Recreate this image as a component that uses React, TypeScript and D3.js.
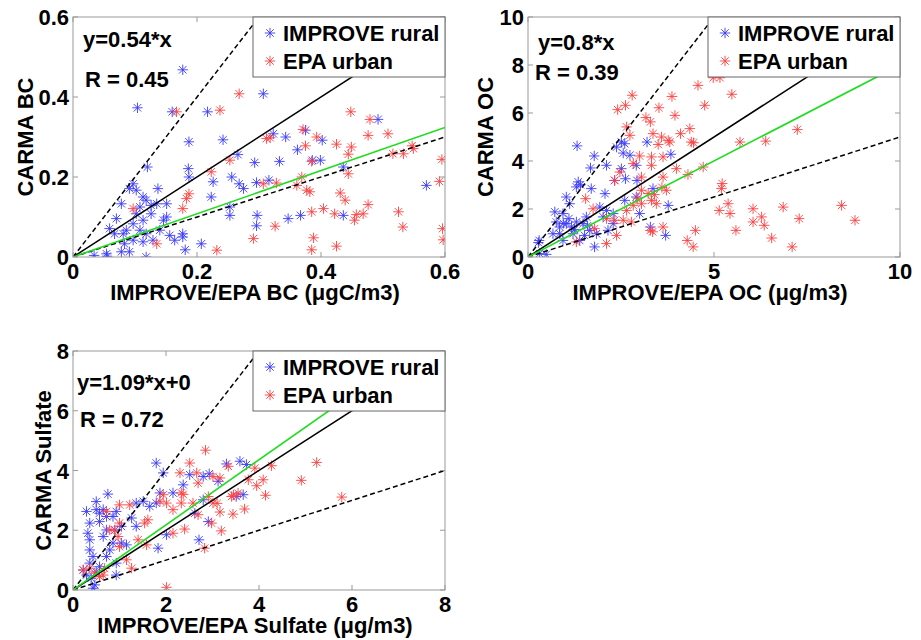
import React from "react";
import * as d3 from "d3";

// ---------- DATA ----------
const legendLabels = ["IMPROVE rural", "EPA urban"];

// Panel 1: BC
const bcRural: [number, number][] = [
  [0.177, 0.468], [0.104, 0.373], [0.16, 0.363], [0.217, 0.363], [0.307, 0.408], [0.187, 0.288],
  [0.242, 0.293], [0.492, 0.344], [0.375, 0.317], [0.343, 0.3], [0.323, 0.308], [0.402, 0.292],
  [0.266, 0.256], [0.362, 0.268], [0.333, 0.239], [0.293, 0.236], [0.386, 0.242], [0.399, 0.242],
  [0.436, 0.225], [0.57, 0.179], [0.12, 0.225], [0.186, 0.221], [0.187, 0.2], [0.226, 0.188],
  [0.256, 0.2], [0.268, 0.183], [0.275, 0.171], [0.296, 0.186], [0.316, 0.192], [0.223, 0.15],
  [0.097, 0.183], [0.091, 0.171], [0.137, 0.171], [0.297, 0.104], [0.296, 0.078], [0.253, 0.125],
  [0.253, 0.104], [0.347, 0.096], [0.367, 0.104], [0.436, 0.104], [0.207, 0.033], [0.181, 0.018],
  [0.118, 0.0], [0.034, 0.004], [0.054, 0.008], [0.055, 0.002], [0.078, 0.013], [0.091, 0.013],
  [0.059, 0.071], [0.07, 0.096], [0.078, 0.133], [0.067, 0.058], [0.081, 0.058], [0.086, 0.067],
  [0.097, 0.083], [0.102, 0.108], [0.108, 0.125], [0.118, 0.142], [0.126, 0.129], [0.135, 0.133],
  [0.151, 0.133], [0.126, 0.108], [0.113, 0.092], [0.108, 0.067], [0.118, 0.058], [0.129, 0.042],
  [0.113, 0.038], [0.097, 0.042], [0.083, 0.033], [0.151, 0.1], [0.156, 0.054], [0.164, 0.042],
  [0.177, 0.058], [0.177, 0.05], [0.14, 0.067], [0.146, 0.092], [0.113, 0.15], [0.102, 0.167],
];
const bcUrban: [number, number][] = [
  [0.167, 0.363], [0.237, 0.367], [0.268, 0.408], [0.448, 0.363], [0.479, 0.344], [0.508, 0.308],
  [0.476, 0.304], [0.371, 0.319], [0.375, 0.278], [0.393, 0.3], [0.425, 0.282], [0.449, 0.275],
  [0.444, 0.257], [0.547, 0.278], [0.516, 0.258], [0.533, 0.258], [0.549, 0.271], [0.595, 0.244],
  [0.591, 0.189], [0.444, 0.208], [0.385, 0.239], [0.369, 0.2], [0.361, 0.179], [0.377, 0.167],
  [0.382, 0.163], [0.328, 0.185], [0.307, 0.183], [0.312, 0.296], [0.318, 0.298], [0.253, 0.242],
  [0.223, 0.213], [0.187, 0.158], [0.183, 0.146], [0.177, 0.121], [0.097, 0.121], [0.135, 0.033],
  [0.385, 0.113], [0.404, 0.121], [0.422, 0.108], [0.431, 0.16], [0.439, 0.142], [0.457, 0.106],
  [0.454, 0.092], [0.468, 0.108], [0.476, 0.131], [0.525, 0.113], [0.532, 0.075], [0.596, 0.071],
  [0.597, 0.043], [0.388, 0.048], [0.385, 0.018], [0.425, 0.027], [0.326, 0.077], [0.291, 0.046],
  [0.232, 0.017],
];

// Panel 2: OC
const ocRural: [number, number][] = [
  [1.32, 4.63], [1.78, 4.21], [1.68, 3.71], [2.11, 3.82], [1.35, 3.13], [1.3, 2.92], [1.41, 3.01],
  [1.7, 2.85], [2.07, 2.64], [2.51, 3.68], [2.38, 4.58], [2.51, 4.79], [2.6, 4.72], [2.56, 4.33],
  [2.74, 4.24], [2.91, 3.82], [2.62, 3.26], [2.33, 3.19], [2.93, 3.19], [3.2, 4.79], [3.84, 4.28],
  [3.36, 2.85], [3.77, 2.15], [3.7, 0.9], [3.29, 1.25], [1.03, 2.5], [0.72, 1.88], [1.12, 2.22],
  [0.94, 1.81], [0.76, 1.46], [0.85, 1.25], [1.03, 1.39], [1.17, 1.25], [1.3, 1.46], [1.48, 1.39],
  [1.57, 1.67], [1.66, 1.11], [1.84, 0.97], [1.79, 0.42], [2.02, 1.67], [2.11, 1.94], [2.29, 1.81],
  [2.29, 1.39], [2.15, 1.11], [1.93, 2.08], [2.6, 2.36], [0.3, 0.69], [0.28, 0.6], [0.49, 0.11],
  [0.31, 0.14], [0.67, 0.97], [0.85, 0.97], [0.94, 0.69], [1.21, 0.97], [1.39, 0.69], [1.52, 0.9],
  [3.0, 1.81], [2.91, 2.5], [1.1, 1.6], [0.95, 1.4], [1.25, 1.15], [1.6, 1.3],
];
const ocUrban: [number, number][] = [
  [4.57, 7.15], [4.75, 6.32], [5.48, 6.78], [4.98, 7.47], [5.16, 7.47], [3.87, 6.69], [3.95, 5.9],
  [3.52, 6.22], [2.8, 6.74], [2.62, 6.32], [2.41, 6.14], [2.65, 5.42], [2.74, 5.07], [3.17, 5.81],
  [3.29, 5.63], [3.36, 5.14], [3.59, 5.0], [3.77, 4.86], [3.81, 4.79], [3.5, 4.69], [4.1, 5.14],
  [4.35, 5.35], [4.39, 4.79], [4.45, 4.76], [5.7, 4.79], [6.39, 4.83], [7.24, 5.31], [4.71, 3.75],
  [4.3, 3.44], [3.99, 3.68], [3.63, 3.33], [3.0, 4.21], [2.83, 3.89], [3.32, 4.17], [3.63, 4.17],
  [3.32, 3.82], [3.05, 3.33], [2.47, 3.54], [2.33, 3.19], [3.05, 2.78], [3.23, 2.64], [3.32, 2.36],
  [3.45, 2.22], [3.72, 2.78], [3.05, 2.22], [2.83, 2.15], [2.65, 1.94], [2.33, 1.53], [2.56, 1.53],
  [2.78, 1.46], [2.11, 0.56], [2.38, 0.9], [2.11, 1.6], [1.79, 1.18], [1.75, 2.01], [1.55, 2.43],
  [1.3, 0.63], [3.63, 1.25], [3.29, 1.11], [3.35, 1.05], [4.28, 0.69], [4.44, 0.42], [4.5, 1.11],
  [5.22, 3.06], [5.2, 2.85], [5.38, 2.22], [5.43, 1.81], [5.14, 1.94], [5.59, 1.11], [6.05, 2.01],
  [6.05, 1.46], [6.28, 1.67], [6.35, 1.32], [6.55, 0.79], [6.86, 2.08], [7.1, 0.42], [7.29, 1.6],
  [8.43, 2.15], [8.79, 1.53], [3.4, 2.6], [3.6, 2.9], [2.95, 2.45],
];

// Panel 3: Sulfate
const so4Rural: [number, number][] = [
  [1.79, 4.25], [1.94, 3.92], [3.59, 4.31], [3.73, 4.2], [3.3, 4.22], [2.51, 3.86], [2.8, 3.8],
  [2.93, 3.89], [3.12, 3.64], [2.37, 3.52], [0.75, 3.21], [0.5, 2.96], [0.29, 2.63], [0.5, 2.69],
  [0.57, 2.57], [0.65, 2.69], [0.72, 2.46], [0.86, 2.46], [0.93, 2.63], [0.57, 2.29], [0.36, 2.24],
  [0.32, 1.9], [0.36, 1.68], [0.65, 1.79], [0.86, 1.57], [1.04, 1.57], [1.15, 1.51], [0.9, 2.01],
  [0.72, 2.01], [1.04, 2.13], [1.26, 2.41], [1.36, 2.13], [1.36, 2.91], [1.51, 2.97], [1.65, 2.8],
  [1.79, 2.91], [1.87, 3.25], [2.15, 3.25], [1.83, 1.4], [2.01, 1.85], [2.8, 3.02], [2.62, 2.57],
  [2.91, 2.29], [2.71, 1.68], [3.51, 3.13], [3.66, 3.19], [0.36, 1.34], [0.43, 1.12], [0.36, 0.9],
  [0.22, 0.67], [0.29, 0.5], [0.39, 0.39], [0.47, 0.17], [0.43, 0.06], [0.57, 0.78], [0.5, 0.6],
  [0.93, 0.9], [0.93, 0.5], [0.72, 1.12], [0.79, 1.34],
];
const so4Urban: [number, number][] = [
  [2.85, 4.68], [2.51, 4.25], [2.3, 3.92], [2.33, 3.25], [2.37, 3.2], [2.66, 3.92], [2.69, 3.58],
  [3.01, 3.8], [3.16, 3.75], [3.34, 4.14], [3.91, 4.08], [4.27, 4.16], [3.77, 3.69], [4.09, 3.69],
  [3.95, 3.49], [4.91, 3.67], [5.24, 4.27], [5.78, 3.11], [4.14, 3.17], [3.41, 3.13], [3.45, 3.18],
  [3.55, 3.24], [3.69, 2.71], [3.44, 2.54], [3.16, 2.61], [3.01, 2.91], [2.91, 3.13], [3.1, 2.9],
  [2.98, 2.24], [3.19, 1.98], [2.69, 2.52], [2.58, 2.91], [2.33, 2.91], [2.15, 2.69], [2.01, 2.91],
  [1.94, 3.19], [1.87, 2.97], [1.54, 2.24], [1.61, 2.35], [1.4, 1.68], [1.58, 1.51], [2.15, 1.9],
  [2.4, 2.04], [2.83, 1.4], [2.01, 0.09], [1.26, 0.73], [1.0, 1.45], [1.15, 1.01], [0.97, 1.79],
  [0.72, 2.63], [0.79, 2.01], [0.9, 2.0], [1.0, 2.24], [1.22, 2.85], [1.0, 2.85], [0.65, 0.5],
  [0.47, 0.56], [0.57, 0.45], [0.22, 0.67], [0.36, 0.73], [0.68, 0.72],
];

const bcTicks = [0, 0.2, 0.4, 0.6];
const ocXTicks = [0, 5, 10];
const ocYTicks = [0, 2, 4, 6, 8, 10];
const so4Ticks = [0, 2, 4, 6, 8];

const fitSlopes = [0.54, 0.8, 1.09];
const fitTexts = ["y=0.54*x", "y=0.8*x", "y=1.09*x+0"];
const rTexts = ["R = 0.45", "R = 0.39", "R = 0.72"];
const yLabels = ["CARMA BC", "CARMA OC", "CARMA Sulfate"];
const xLabels = ["IMPROVE/EPA BC (\u03bcgC/m3)", "IMPROVE/EPA OC (\u03bcg/m3)", "IMPROVE/EPA Sulfate (\u03bcg/m3)"];

// ---------- LAYOUT ----------
const FONT = "'Liberation Sans', Arial, Helvetica, sans-serif";
const FS = 22;
const BLUE = "#3a3aff";
const RED = "#ff4040";
const GREEN = "#1fdc1f";

function starPath(r: number) {
  const d = r * 0.72;
  return `M${-r},0H${r}M0,${-r}V${r}M${-d},${-d}L${d},${d}M${-d},${d}L${d},${-d}`;
}

type PanelProps = {
  id: string;
  left: number; top: number; width: number; height: number;
  xDomain: [number, number]; yDomain: [number, number];
  xTicks: number[]; yTicks: number[];
  rural: [number, number][]; urban: [number, number][];
  slope: number; fitText: string; rText: string;
  fitPos: [number, number]; rPos: [number, number];
  xLabel: string; yLabel: string; yLabelX: number;
};

function Panel(p: PanelProps) {
  const x = d3.scaleLinear().domain(p.xDomain).range([p.left, p.left + p.width]);
  const y = d3.scaleLinear().domain(p.yDomain).range([p.top + p.height, p.top]);
  const xm = p.xDomain[1];
  const line = d3.line<[number, number]>().x((d) => x(d[0])).y((d) => y(d[1]));
  const seg = (m: number) => line([[0, 0], [xm, m * xm]]);
  const star = starPath(5.2);
  const tickLen = 5;
  const bottom = p.top + p.height;
  const right = p.left + p.width;
  const legW = 192, legH = 60;
  const legX = right - legW, legY = p.top;
  return (
    <g>
      <defs>
        <clipPath id={p.id}>
          <rect x={p.left} y={p.top} width={p.width} height={p.height} />
        </clipPath>
      </defs>
      <rect x={p.left} y={p.top} width={p.width} height={p.height} fill="#fff" />
      <g clipPath={`url(#${p.id})`}>
        {p.rural.map((d, i) => (
          <path key={"r" + i} d={star} transform={`translate(${x(d[0])},${y(d[1])})`} stroke={BLUE} strokeWidth={0.9} fill="none" />
        ))}
        {p.urban.map((d, i) => (
          <path key={"u" + i} d={star} transform={`translate(${x(d[0])},${y(d[1])})`} stroke={RED} strokeWidth={0.9} fill="none" />
        ))}
        <path d={seg(2) || ""} stroke="#000" strokeWidth={1.5} strokeDasharray="5,3" fill="none" />
        <path d={seg(0.5) || ""} stroke="#000" strokeWidth={1.5} strokeDasharray="5,3" fill="none" />
        <path d={seg(1) || ""} stroke="#000" strokeWidth={1.5} fill="none" />
        <path d={seg(p.slope) || ""} stroke={GREEN} strokeWidth={1.6} fill="none" />
      </g>
      {/* ticks */}
      {p.xTicks.map((t) => (
        <g key={"xt" + t}>
          <line x1={x(t)} x2={x(t)} y1={bottom} y2={bottom - tickLen} stroke="#999" />
          <line x1={x(t)} x2={x(t)} y1={p.top} y2={p.top + tickLen} stroke="#999" />
          <text x={x(t)} y={bottom + 22} textAnchor="middle" fontFamily={FONT} fontWeight="bold" fontSize={FS}>{String(t)}</text>
        </g>
      ))}
      {p.yTicks.map((t) => (
        <g key={"yt" + t}>
          <line x1={p.left} x2={p.left + tickLen} y1={y(t)} y2={y(t)} stroke="#999" />
          <line x1={right} x2={right - tickLen} y1={y(t)} y2={y(t)} stroke="#999" />
          <text x={p.left - 4} y={y(t) + 8} textAnchor="end" fontFamily={FONT} fontWeight="bold" fontSize={FS}>{String(t)}</text>
        </g>
      ))}
      <rect x={p.left} y={p.top} width={p.width} height={p.height} fill="none" stroke="#999" strokeWidth={1} />
      {/* annotations */}
      <text x={p.fitPos[0]} y={p.fitPos[1]} fontFamily={FONT} fontWeight="bold" fontSize={FS}>{p.fitText}</text>
      <text x={p.rPos[0]} y={p.rPos[1]} fontFamily={FONT} fontWeight="bold" fontSize={FS}>{p.rText}</text>
      {/* legend */}
      <rect x={legX} y={legY} width={legW} height={legH} fill="#fff" stroke="#666" strokeWidth={1} />
      <path d={star} transform={`translate(${legX + 17},${legY + 16})`} stroke={BLUE} strokeWidth={0.9} fill="none" />
      <path d={star} transform={`translate(${legX + 17},${legY + 44})`} stroke={RED} strokeWidth={0.9} fill="none" />
      <text x={legX + 30} y={legY + 24} fontFamily={FONT} fontWeight="bold" fontSize={FS}>{legendLabels[0]}</text>
      <text x={legX + 30} y={legY + 52} fontFamily={FONT} fontWeight="bold" fontSize={FS}>{legendLabels[1]}</text>
      {/* axis labels */}
      <text x={(p.left + right) / 2 - 4} y={bottom + 43} textAnchor="middle" fontFamily={FONT} fontWeight="bold" fontSize={FS}>{p.xLabel}</text>
      <text transform={`translate(${p.yLabelX},${(p.top + bottom) / 2}) rotate(-90)`} textAnchor="middle" dy="0.35em" fontFamily={FONT} fontWeight="bold" fontSize={FS}>{p.yLabel}</text>
    </g>
  );
}

export default function App() {
  return (
    <svg width={921} height={640} style={{ position: "absolute", left: 0, top: 0, background: "#fff" }}>
      <rect width={921} height={640} fill="#fff" />
      <Panel id="c1" left={73} top={17} width={372} height={240}
        xDomain={[0, 0.6]} yDomain={[0, 0.6]} xTicks={bcTicks} yTicks={bcTicks}
        rural={bcRural} urban={bcUrban} slope={fitSlopes[0]} fitText={fitTexts[0]} rText={rTexts[0]}
        fitPos={[83, 47]} rPos={[85, 87]} xLabel={xLabels[0]} yLabel={yLabels[0]} yLabelX={25} />
      <Panel id="c2" left={528} top={17} width={372} height={240}
        xDomain={[0, 10]} yDomain={[0, 10]} xTicks={ocXTicks} yTicks={ocYTicks}
        rural={ocRural} urban={ocUrban} slope={fitSlopes[1]} fitText={fitTexts[1]} rText={rTexts[1]}
        fitPos={[538, 50]} rPos={[535, 80]} xLabel={xLabels[1]} yLabel={yLabels[1]} yLabelX={485} />
      <Panel id="c3" left={73} top={351} width={372} height={239}
        xDomain={[0, 8]} yDomain={[0, 8]} xTicks={so4Ticks} yTicks={so4Ticks}
        rural={so4Rural} urban={so4Urban} slope={fitSlopes[2]} fitText={fitTexts[2]} rText={rTexts[2]}
        fitPos={[77, 390]} rPos={[80, 427]} xLabel={xLabels[2]} yLabel={yLabels[2]} yLabelX={43} />
    </svg>
  );
}
